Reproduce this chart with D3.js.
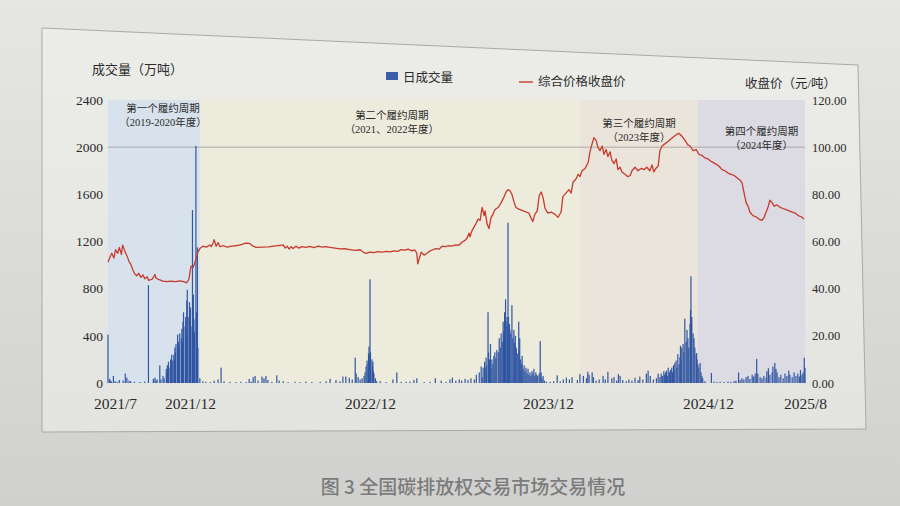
<!DOCTYPE html>
<html><head><meta charset="utf-8">
<script src="https://cdn.jsdelivr.net/npm/d3@7"></script>
<style>
html,body{margin:0;padding:0;background:#dcdcda;}
svg{display:block;}
</style></head><body>
<svg id="chart" width="900" height="506"></svg>
<script>
// ---------------- DATA ----------------
const xTickLabels = ["2021/7","2021/12","2022/12","2023/12","2024/12","2025/8"];
const xTickDates  = ["2021-07-29","2021-12-15","2022-12-15","2023-12-15","2024-12-15","2025-08-29"];
const leftTicks  = [0,400,800,1200,1600,2000,2400];
const rightTicks = [0,20,40,60,80,100,120];
const gridValues = [2000];

const cycleNames = ["第一个履约周期","第二个履约周期","第三个履约周期","第四个履约周期"];
const cycleYears = ["（2019-2020年度）","（2021、2022年度）","（2023年度）","（2024年度）"];
const cycleStart = ["2021-07-16","2022-01-04","2024-02-26","2024-11-22"];
const cycleEnd   = ["2022-01-04","2024-02-26","2024-11-22","2025-08-29"];

const legendNames = ["日成交量","综合价格收盘价"];
const leftTitle = "成交量（万吨）";
const rightTitle = "收盘价（元/吨）";
const caption = "图 3 全国碳排放权交易市场交易情况";

// daily volume, 万吨
const volume = [
["2021-07-16",410],["2021-07-19",35],["2021-07-20",20],["2021-07-22",15],["2021-07-26",60],["2021-07-29",15],["2021-08-02",10],["2021-08-06",25],["2021-08-13",20],["2021-08-17",80],["2021-08-20",45],["2021-08-24",20],["2021-08-27",15],["2021-09-03",10],["2021-09-13",8],["2021-09-22",12],["2021-09-29",830],["2021-10-08",35],["2021-10-11",45],["2021-10-13",20],["2021-10-15",30],["2021-10-20",150],["2021-10-22",30],["2021-10-26",60],["2021-10-28",40],
["2021-11-01",120],["2021-11-02",80],["2021-11-03",150],["2021-11-04",110],["2021-11-05",180],["2021-11-08",130],["2021-11-09",200],["2021-11-10",160],["2021-11-11",240],["2021-11-12",190],["2021-11-15",240],["2021-11-16",200],["2021-11-17",300],["2021-11-18",260],["2021-11-19",330],["2021-11-22",410],["2021-11-23",280],["2021-11-24",350],["2021-11-25",300],["2021-11-26",420],["2021-11-29",380],["2021-11-30",460],["2021-12-01",350],["2021-12-02",520],["2021-12-03",600],["2021-12-06",480],["2021-12-07",560],["2021-12-08",450],["2021-12-09",700],["2021-12-10",790],["2021-12-13",560],["2021-12-14",685],["2021-12-15",520],["2021-12-16",640],["2021-12-17",480],["2021-12-20",1467],["2021-12-21",620],["2021-12-22",750],["2021-12-23",540],["2021-12-24",430],["2021-12-27",2011],["2021-12-28",600],["2021-12-29",380],["2021-12-30",1150],["2021-12-31",300],
["2022-01-04",40],["2022-01-10",15],["2022-01-16",10],["2022-01-25",8],["2022-02-02",20],["2022-02-10",30],["2022-02-16",130],["2022-02-22",15],["2022-03-06",10],["2022-03-18",8],["2022-03-28",10],["2022-04-08",8],["2022-04-14",35],["2022-04-18",12],["2022-04-22",50],["2022-04-26",60],["2022-05-02",20],["2022-05-10",55],["2022-05-14",40],["2022-05-18",60],["2022-05-22",25],["2022-05-30",10],["2022-06-09",65],["2022-06-14",20],["2022-06-22",15],["2022-07-02",8],["2022-07-16",10],["2022-07-26",8],["2022-08-07",12],["2022-08-19",8],["2022-09-05",10],["2022-09-17",15],["2022-09-25",35],["2022-10-07",25],["2022-10-15",15],["2022-10-21",55],["2022-10-27",55],["2022-11-03",45],["2022-11-09",30],["2022-11-15",215],["2022-11-17",80],["2022-11-21",50],["2022-11-25",30],["2022-11-29",40],["2022-12-03",60],["2022-12-05",90],["2022-12-07",140],["2022-12-09",190],["2022-12-11",160],["2022-12-12",250],["2022-12-13",310],["2022-12-14",230],["2022-12-15",880],
["2022-12-16",260],["2022-12-19",200],["2022-12-20",140],["2022-12-21",180],["2022-12-22",100],["2022-12-23",80],["2022-12-26",40],["2022-12-27",20],["2022-12-29",12],["2023-01-05",15],["2023-01-17",8],["2023-01-31",30],["2023-02-08",90],["2023-02-17",10],["2023-02-27",10],["2023-03-07",12],["2023-03-15",25],["2023-03-21",40],["2023-04-05",8],["2023-04-17",10],["2023-04-28",40],["2023-05-10",20],["2023-05-20",10],["2023-05-28",30],["2023-06-02",45],["2023-06-09",20],["2023-06-16",30],["2023-06-21",20],["2023-06-28",35],["2023-07-04",25],["2023-07-10",40],["2023-07-17",30],["2023-07-21",70],["2023-07-27",90],["2023-07-31",140],["2023-08-02",50],["2023-08-04",130],["2023-08-07",180],["2023-08-08",120],["2023-08-10",215],["2023-08-11",150],["2023-08-14",600],["2023-08-15",260],["2023-08-16",150],["2023-08-17",200],["2023-08-19",330],["2023-08-20",120],["2023-08-22",200],["2023-08-24",160],["2023-08-26",230],["2023-08-28",260],["2023-08-30",210],["2023-09-01",280],["2023-09-04",260],["2023-09-06",380],["2023-09-08",300],["2023-09-10",420],["2023-09-12",350],["2023-09-14",520],["2023-09-15",440],["2023-09-17",600],["2023-09-18",480],["2023-09-19",710],["2023-09-20",520],["2023-09-22",560],["2023-09-23",480],["2023-09-24",1360],["2023-09-25",560],["2023-09-27",500],["2023-09-28",450],["2023-09-30",420],["2023-10-02",660],["2023-10-04",380],["2023-10-06",450],["2023-10-07",340],["2023-10-09",400],["2023-10-11",300],["2023-10-13",250],["2023-10-16",520],["2023-10-17",280],["2023-10-18",380],["2023-10-20",200],["2023-10-22",160],["2023-10-23",230],["2023-10-25",120],["2023-10-27",150],["2023-10-29",100],["2023-10-31",130],["2023-11-02",80],["2023-11-04",120],["2023-11-06",70],["2023-11-08",90],["2023-11-10",60],["2023-11-12",100],["2023-11-14",80],["2023-11-16",120],["2023-11-18",60],["2023-11-20",90],["2023-11-22",70],["2023-11-24",60],["2023-11-27",80],["2023-11-29",355],["2023-12-01",90],["2023-12-03",40],["2023-12-05",60],["2023-12-08",20],["2023-12-12",10],
["2023-12-20",10],["2023-12-28",15],["2024-01-05",65],["2024-01-12",15],["2024-01-19",30],["2024-01-26",45],["2024-02-02",30],["2024-02-08",50],["2024-02-20",25],["2024-02-26",75],["2024-03-05",60],["2024-03-12",40],["2024-03-15",95],["2024-03-18",70],["2024-03-25",90],["2024-03-28",50],["2024-04-03",20],["2024-04-10",30],["2024-04-19",60],["2024-04-24",30],["2024-04-30",95],["2024-05-09",40],["2024-05-14",50],["2024-05-20",20],["2024-05-24",75],["2024-05-28",60],["2024-06-03",25],["2024-06-11",15],["2024-06-17",30],["2024-06-24",20],["2024-07-01",45],["2024-07-08",25],["2024-07-12",55],["2024-07-19",30],["2024-07-27",80],["2024-07-31",105],["2024-08-05",60],["2024-08-12",30],["2024-08-19",40],["2024-08-23",80],["2024-08-27",50],["2024-08-30",80],["2024-09-02",60],["2024-09-05",100],["2024-09-07",70],["2024-09-09",90],["2024-09-11",105],["2024-09-13",60],["2024-09-15",130],["2024-09-18",90],["2024-09-20",110],["2024-09-23",130],["2024-09-25",90],["2024-09-27",150],["2024-09-28",110],["2024-09-30",170],["2024-10-03",190],["2024-10-05",130],["2024-10-07",245],["2024-10-10",160],["2024-10-12",220],["2024-10-13",315],["2024-10-14",200],["2024-10-16",300],["2024-10-19",330],["2024-10-21",260],["2024-10-23",545],["2024-10-26",350],["2024-10-28",450],["2024-10-30",380],["2024-11-01",300],["2024-11-04",500],["2024-11-05",620],["2024-11-06",905],["2024-11-07",520],["2024-11-08",560],["2024-11-11",420],["2024-11-13",380],["2024-11-15",300],["2024-11-18",240],["2024-11-19",255],["2024-11-20",200],["2024-11-22",160],["2024-11-24",130],["2024-11-27",170],["2024-11-29",90],["2024-12-01",60],["2024-12-03",40],["2024-12-08",15],
["2024-12-24",85],["2024-12-31",12],["2025-01-08",8],["2025-01-16",10],["2025-01-26",8],["2025-02-06",12],["2025-02-14",10],["2025-02-22",15],["2025-02-27",20],["2025-03-06",90],["2025-03-10",25],["2025-03-15",40],["2025-03-20",30],["2025-03-26",50],["2025-03-31",60],["2025-04-05",35],["2025-04-11",70],["2025-04-15",55],["2025-04-19",80],["2025-04-23",205],["2025-04-26",80],["2025-05-02",50],["2025-05-07",40],["2025-05-12",60],["2025-05-18",45],["2025-05-20",100],["2025-05-24",125],["2025-05-28",70],["2025-06-03",90],["2025-06-05",140],["2025-06-10",170],["2025-06-13",120],["2025-06-16",90],["2025-06-21",50],["2025-06-26",70],["2025-07-02",40],["2025-07-07",80],["2025-07-12",60],["2025-07-17",105],["2025-07-20",70],["2025-07-26",50],["2025-07-31",90],["2025-08-05",60],["2025-08-10",80],["2025-08-14",55],["2025-08-17",110],["2025-08-21",70],["2025-08-24",90],["2025-08-27",215],["2025-08-29",130]
];

// composite closing price, 元/吨
const price = [
["2021-07-16",51.2],["2021-07-20",53.5],["2021-07-23",55.0],["2021-07-27",53.0],["2021-07-30",56.5],["2021-08-03",55.0],["2021-08-06",57.5],["2021-08-10",54.5],["2021-08-12",58.5],["2021-08-17",55.5],["2021-08-20",54.0],["2021-08-24",51.5],["2021-08-27",50.5],["2021-08-31",48.0],["2021-09-03",46.5],["2021-09-07",45.5],["2021-09-11",46.5],["2021-09-15",44.8],["2021-09-19",45.8],["2021-09-22",44.2],["2021-09-27",45.0],["2021-09-29",43.5],["2021-10-06",44.0],["2021-10-11",46.0],["2021-10-13",44.5],["2021-10-19",43.8],["2021-10-26",43.2],["2021-11-02",43.0],["2021-11-09",43.2],["2021-11-18",43.0],["2021-11-26",43.3],["2021-12-03",43.0],["2021-12-09",42.5],["2021-12-13",44.0],["2021-12-15",47.0],
["2021-12-17",49.5],["2021-12-21",49.0],["2021-12-24",50.5],["2021-12-29",54.0],["2021-12-31",55.5],["2022-01-04",57.0],["2022-01-10",58.0],["2022-01-17",57.6],["2022-01-24",58.5],["2022-01-27",57.8],["2022-01-31",59.5],["2022-02-02",60.8],["2022-02-06",58.0],["2022-02-10",59.5],["2022-02-14",57.8],["2022-02-21",58.2],["2022-02-28",57.6],["2022-03-10",58.0],["2022-03-21",58.3],["2022-03-30",58.8],["2022-04-07",59.3],["2022-04-15",59.2],["2022-04-22",58.0],["2022-04-28",57.5],["2022-05-10",57.6],["2022-05-23",57.7],["2022-06-02",58.0],["2022-06-16",58.4],["2022-06-22",58.6],["2022-06-26",57.2],["2022-06-30",58.0],["2022-07-04",56.8],["2022-07-08",57.8],["2022-07-12",57.0],["2022-07-18",58.0],["2022-07-24",57.2],["2022-07-30",57.8],["2022-08-07",57.5],["2022-08-15",57.9],["2022-08-23",57.4],["2022-09-01",58.0],["2022-09-09",57.6],["2022-09-17",57.8],["2022-09-25",57.5],["2022-10-05",57.2],["2022-10-15",56.9],["2022-10-25",57.0],["2022-11-04",56.6],["2022-11-15",56.2],["2022-11-25",56.5],["2022-12-01",55.5],["2022-12-07",55.0],["2022-12-15",55.5],
["2022-12-23",55.3],["2022-12-31",55.7],["2023-01-09",55.5],["2023-01-17",55.8],["2023-01-25",55.6],["2023-02-02",56.0],["2023-02-10",55.8],["2023-02-17",56.6],["2023-02-25",56.3],["2023-03-03",56.8],["2023-03-11",56.0],["2023-03-17",56.4],["2023-03-21",55.0],["2023-03-23",50.5],["2023-03-25",52.0],["2023-03-30",55.5],["2023-04-05",54.2],["2023-04-11",55.0],["2023-04-17",56.0],["2023-04-23",56.5],["2023-04-29",57.0],["2023-05-06",56.8],["2023-05-12",58.0],["2023-05-18",57.8],["2023-05-24",58.2],["2023-06-01",58.0],["2023-06-09",58.6],["2023-06-16",58.5],["2023-06-22",59.8],["2023-06-28",60.5],["2023-07-02",61.5],["2023-07-06",63.5],["2023-07-08",62.0],["2023-07-12",64.5],["2023-07-16",66.0],["2023-07-20",67.5],["2023-07-25",69.5],["2023-07-29",69.0],["2023-07-31",72.0],["2023-08-02",74.5],["2023-08-06",71.0],["2023-08-08",73.0],["2023-08-12",67.5],["2023-08-16",65.5],["2023-08-20",70.0],["2023-08-24",71.5],["2023-08-28",73.5],["2023-09-04",74.5],["2023-09-10",76.5],["2023-09-16",79.0],["2023-09-20",81.0],["2023-09-24",82.0],["2023-09-28",81.5],["2023-10-02",80.0],["2023-10-06",77.0],["2023-10-10",74.5],["2023-10-15",73.8],["2023-10-19",73.5],["2023-10-25",73.0],["2023-10-31",72.5],["2023-11-06",72.0],["2023-11-10",70.0],["2023-11-14",68.5],["2023-11-18",71.5],["2023-11-23",73.0],["2023-11-27",79.5],["2023-12-01",81.0],["2023-12-05",78.5],["2023-12-09",74.0],["2023-12-15",72.0],
["2023-12-22",72.5],["2023-12-31",71.5],["2024-01-07",70.3],["2024-01-14",72.5],["2024-01-18",79.0],["2024-01-25",80.5],["2024-02-01",82.0],["2024-02-06",80.5],["2024-02-10",85.0],["2024-02-17",86.5],["2024-02-22",88.5],["2024-02-26",87.5],["2024-03-02",90.0],["2024-03-09",91.0],["2024-03-16",93.5],["2024-03-20",98.0],["2024-03-25",101.5],["2024-03-29",104.0],["2024-04-03",103.0],["2024-04-07",100.0],["2024-04-12",98.5],["2024-04-17",100.5],["2024-04-21",97.0],["2024-04-26",99.0],["2024-04-30",96.0],["2024-05-05",98.0],["2024-05-09",94.5],["2024-05-14",93.0],["2024-05-19",95.0],["2024-05-23",90.5],["2024-05-28",91.5],["2024-06-01",89.5],["2024-06-08",88.5],["2024-06-15",87.5],["2024-06-20",88.0],["2024-06-24",90.0],["2024-07-01",91.5],["2024-07-08",90.0],["2024-07-15",91.0],["2024-07-22",90.5],["2024-07-28",91.5],["2024-08-04",90.0],["2024-08-09",92.5],["2024-08-13",89.5],["2024-08-18",91.0],["2024-08-23",92.0],["2024-08-27",98.5],["2024-09-01",100.5],["2024-09-08",101.5],["2024-09-15",102.5],["2024-09-21",103.5],["2024-09-28",104.5],["2024-10-05",105.5],["2024-10-10",105.8],["2024-10-17",104.5],["2024-10-23",103.0],["2024-10-30",101.0],["2024-11-04",100.5],["2024-11-11",98.5],["2024-11-18",99.0],["2024-11-24",97.0],["2024-12-01",96.5],["2024-12-08",95.5],["2024-12-15",95.0],
["2024-12-23",94.0],["2025-01-03",93.0],["2025-01-13",92.0],["2025-01-21",90.5],["2025-01-29",90.0],["2025-02-06",89.0],["2025-02-14",88.5],["2025-02-22",88.0],["2025-03-02",87.0],["2025-03-10",86.0],["2025-03-15",85.0],["2025-03-20",81.0],["2025-03-26",76.5],["2025-03-31",75.0],["2025-04-05",72.5],["2025-04-13",71.0],["2025-04-21",70.5],["2025-04-29",69.5],["2025-05-07",69.0],["2025-05-12",70.0],["2025-05-18",72.5],["2025-05-23",74.5],["2025-05-28",77.5],["2025-06-03",76.5],["2025-06-08",75.0],["2025-06-16",75.5],["2025-06-24",74.5],["2025-07-02",74.0],["2025-07-10",73.5],["2025-07-18",73.0],["2025-07-26",72.5],["2025-08-03",72.0],["2025-08-11",71.0],["2025-08-19",70.5],["2025-08-26",69.5]
];

// ---------------- DRAWING ----------------
const parse = d3.timeParse("%Y-%m-%d");
const svg = d3.select("#chart");
const serifCJK = "'Liberation Serif','Noto Sans CJK SC',serif";
const textColor = "#2b2b2b";

const defs = svg.append("defs");
const g1 = defs.append("linearGradient").attr("id","bg").attr("x1",0).attr("y1",0).attr("x2",0).attr("y2",1);
g1.append("stop").attr("offset","0%").attr("stop-color","#e6e6e4");
g1.append("stop").attr("offset","100%").attr("stop-color","#d0d0ce");
const g2 = defs.append("linearGradient").attr("id","fr").attr("x1",0).attr("y1",0).attr("x2",0).attr("y2",1);
g2.append("stop").attr("offset","0%").attr("stop-color","#ecece9");
g2.append("stop").attr("offset","100%").attr("stop-color","#e3e3e0");

svg.append("rect").attr("width",900).attr("height",506).attr("fill","url(#bg)");
svg.append("polygon")
  .attr("points","42,28 858,65 866,429 42,432")
  .attr("fill","url(#fr)").attr("stroke","#a9a9a7").attr("stroke-width",1);

const plotL = 108, plotR = 805, yTop = 100, yBot = 383;
const keyDates = ["2021-07-16","2021-12-15","2022-12-15","2023-12-15","2024-12-15","2025-08-29"].map(parse);
const x = d3.scaleTime().domain(keyDates).range([plotL,190,370,548,708,plotR]);
const yL = d3.scaleLinear().domain([0,2400]).range([yBot,yTop]);
const yR = d3.scaleLinear().domain([0,120]).range([yBot,yTop]);

// cycle bands
const bandColors = ["#d8e2ec","#edebdb","#ebe4da","#dcdbe3"];
const bands = cycleNames.map((n,i)=>({name:n, years:cycleYears[i], s:parse(cycleStart[i]), e:parse(cycleEnd[i]), c:bandColors[i]}));
svg.append("g").selectAll("rect").data(bands).join("rect")
  .attr("x",d=>x(d.s)).attr("y",yTop)
  .attr("width",d=>x(d.e)-x(d.s)).attr("height",yBot-yTop)
  .attr("fill",d=>d.c);

// gridline
svg.append("g").selectAll("line").data(gridValues).join("line")
  .attr("x1",plotL).attr("x2",plotR).attr("y1",d=>yL(d)).attr("y2",d=>yL(d))
  .attr("stroke","#9c9c9c").attr("stroke-width",0.8);

// band labels
const labDx = [9,2,0,10];
const labY = [112,119,127,135];
const bl = svg.append("g").attr("font-family",serifCJK).attr("font-size",10.5).attr("fill",textColor).attr("text-anchor","middle");
bands.forEach((b,i)=>{
  const cx = (x(b.s)+x(b.e))/2 + labDx[i];
  bl.append("text").attr("x",cx).attr("y",labY[i]).text(b.name);
  bl.append("text").attr("x",cx).attr("y",labY[i]+14).text(b.years);
});

// volume bars
const vol = volume.map(d=>({date:parse(d[0]), v:d[1]}));
svg.append("g").selectAll("rect").data(vol).join("rect")
  .attr("x",d=>x(d.date)-0.6).attr("width",1.2)
  .attr("y",d=>yL(d.v)).attr("height",d=>yBot-yL(d.v))
  .attr("fill","#3156a2");

// price line
const pr = price.map(d=>({date:parse(d[0]), p:d[1]})).sort((a,b)=>a.date-b.date);
svg.append("path").datum(pr)
  .attr("d",d3.line().x(d=>x(d.date)).y(d=>yR(d.p)))
  .attr("fill","none").attr("stroke","#c83a2c").attr("stroke-width",1.3).attr("stroke-linejoin","round");

// axes
const axL = svg.append("g").attr("transform",`translate(${plotL},0)`)
  .call(d3.axisLeft(yL).tickValues(leftTicks).tickSize(0).tickPadding(5).tickFormat(d3.format("d")));
const axR = svg.append("g").attr("transform",`translate(${plotR},0)`)
  .call(d3.axisRight(yR).tickValues(rightTicks).tickSize(0).tickPadding(7).tickFormat(d3.format(".2f")));
const axB = svg.append("g").attr("transform",`translate(0,${yBot})`)
  .call(d3.axisBottom(x).tickValues(xTickDates.map(parse)).tickSize(0).tickPadding(15)
    .tickFormat((d,i)=>xTickLabels[i]));
[axL,axR,axB].forEach(a=>{
  a.select(".domain").remove();
  a.selectAll("text").attr("font-family","'Liberation Serif',serif").attr("fill",textColor);
});
axL.selectAll("text").attr("font-size",13.5);
axR.selectAll("text").attr("font-size",12.5);
axB.selectAll("text").attr("font-size",15.5);

// titles
svg.append("text").attr("x",92).attr("y",74).attr("font-family",serifCJK).attr("font-size",13)
  .attr("fill",textColor).text(leftTitle);
svg.append("text").attr("x",745).attr("y",88).attr("font-family",serifCJK).attr("font-size",12.5)
  .attr("fill",textColor).text(rightTitle);

// legend
svg.append("rect").attr("x",386).attr("y",72).attr("width",12).attr("height",8).attr("fill","#3a5ea8");
svg.append("text").attr("x",403).attr("y",82).attr("font-family",serifCJK).attr("font-size",12.5)
  .attr("fill",textColor).text(legendNames[0]);
svg.append("line").attr("x1",519).attr("x2",533).attr("y1",82).attr("y2",82)
  .attr("stroke","#c94a3a").attr("stroke-width",1.5);
svg.append("text").attr("x",538).attr("y",86).attr("font-family",serifCJK).attr("font-size",12.5)
  .attr("fill",textColor).text(legendNames[1]);

// caption
svg.append("text").attr("x",473).attr("y",494).attr("text-anchor","middle")
  .attr("font-family","'Noto Sans CJK SC',sans-serif").attr("font-size",19).attr("font-weight",500)
  .attr("fill","#7b7b7b").text(caption);
</script>
</body></html>
